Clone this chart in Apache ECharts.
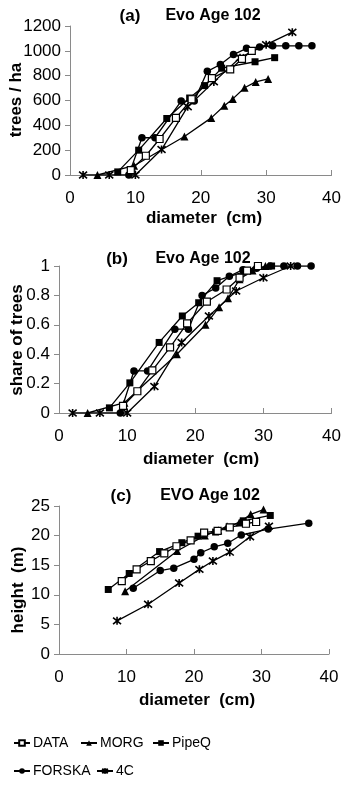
<!DOCTYPE html>
<html>
<head>
<meta charset="utf-8">
<script src="https://cdn.jsdelivr.net/npm/echarts@6/dist/echarts.min.js"></script>
<style>
html,body{margin:0;padding:0;background:#fff;}
#chart{width:344px;height:786px;}
</style>
</head>
<body>
<div id="chart"></div>
<script>
// ---- Panel (a): trees / ha vs diameter (cm) ----
const a_DATA   = [[9.3,40],[11.6,155],[13.7,290],[16.2,460],[18.6,610],[21.7,780],[24.5,850],[26.3,935],[27.8,1000]];
const a_MORG   = [[4.2,0],[9.8,75],[17.5,310],[21.6,460],[23.6,558],[24.9,613],[26.7,703],[28.4,750],[30.3,774]];
const a_PipeQ  = [[7.3,25],[10.5,200],[14.8,455],[18.3,620],[20.6,720],[23.2,860],[28.3,912],[31.3,945]];
const a_FORSKA = [[9,0],[11,300],[13,300],[17,595],[19,595],[21,835],[23,890],[25,970],[27,1020],[29,1030],[31,1040],[33,1040],[35,1040],[37,1040]];
const a_4C     = [[2,0],[6,0],[10,0],[14,205],[18,550],[22,750],[26,945],[30,1050],[34,1150]];

// ---- Panel (b): share of trees vs diameter (cm) ----
const b_DATA   = [[9.4,0.048],[11.5,0.148],[13.7,0.29],[16.3,0.446],[18.8,0.61],[21.7,0.757],[24.6,0.84],[26.5,0.92],[27.6,0.968],[29.2,1.0]];
const b_MORG   = [[4.2,0],[9.6,0.07],[17.3,0.4],[21.5,0.6],[23.5,0.72],[24.8,0.78],[26.5,0.91],[28.4,0.97],[30.3,1.0]];
const b_PipeQ  = [[7.4,0.035],[10.4,0.205],[14.7,0.48],[18.1,0.66],[20.5,0.75],[23.2,0.9],[27.1,0.96],[31.2,1.0]];
const b_FORSKA = [[9,0],[11,0.286],[13,0.286],[17,0.57],[19,0.57],[21,0.8],[23,0.85],[25,0.93],[27,0.975],[29,0.985],[31,1],[33,1],[35,1],[37,1]];
const b_4C     = [[2,0],[6,0],[10,0],[14,0.18],[18,0.48],[22,0.66],[26,0.83],[30,0.92],[34,1.0]];

// ---- Panel (c): height (m) vs diameter (cm) ----
const c_DATA   = [[9.3,12.3],[11.5,14.3],[13.6,15.7],[15.6,17.0],[17.4,18.2],[19.5,19.2],[21.5,20.5],[23.5,20.8],[25.3,21.4],[27.7,22.0],[29.2,22.3]];
const c_MORG   = [[9.8,10.6],[17.5,17.4],[21.6,20.0],[23.6,20.9],[24.9,21.6],[26.7,22.2],[28.4,23.6],[30.3,24.4]];
const c_PipeQ  = [[7.3,10.9],[10.4,13.6],[14.9,17.3],[18.2,18.8],[20.6,19.9],[23.2,20.6],[27.3,22.5],[31.3,23.4]];
const c_FORSKA = [[11,11.1],[15,14.1],[17,14.5],[20,16.0],[21,17.1],[23,18.1],[25,18.7],[27,20.1],[31,21.1],[37,22.1]];
const c_4C     = [[8.6,5.6],[13.2,8.4],[17.8,12.0],[20.8,14.3],[22.8,15.7],[25.3,17.2],[28.3,19.8],[31.1,21.6]];

// axis ticks
const xTicks = {min:0, max:40, interval:10};
const yA = {min:0, max:1200, interval:200};
const yB = {min:0, max:1, interval:0.2};
const yC = {min:0, max:25, interval:5};

const seriesNames = ['DATA','MORG','PipeQ','FORSKA','4C'];
const panelData = [
  [a_DATA,a_MORG,a_PipeQ,a_FORSKA,a_4C],
  [b_DATA,b_MORG,b_PipeQ,b_FORSKA,b_4C],
  [c_DATA,c_MORG,c_PipeQ,c_FORSKA,c_4C]
];

const FONT = '"Liberation Sans", Arial, sans-serif';
const starPath = 'path://M0,0L10,10M10,0L0,10M5,-1L5,11';
const styles = {
  'DATA':   {symbol:'rect', symbolSize:7, itemStyle:{color:'#fff', borderColor:'#000', borderWidth:1.2}},
  'MORG':   {symbol:'triangle', symbolSize:8, itemStyle:{color:'#000', borderColor:'#000', borderWidth:0}},
  'PipeQ':  {symbol:'rect', symbolSize:7, itemStyle:{color:'#000', borderColor:'#000', borderWidth:0}},
  'FORSKA': {symbol:'circle', symbolSize:7.5, itemStyle:{color:'#000', borderColor:'#000', borderWidth:0}},
  '4C':     {symbol:starPath, symbolSize:8, itemStyle:{color:'none', borderColor:'#000', borderWidth:1.6}}
};

const grids = [
  {left:70, top:26, width:264, height:149},
  {left:59, top:266, width:274, height:147},
  {left:59, top:506, width:270, height:148}
];
const yDefs = [yA, yB, yC];

const axisLine = {show:true, lineStyle:{color:'#8a8a8a', width:1}};
const xAxes = grids.map((g,i)=>({
  gridIndex:i, type:'value', min:xTicks.min, max:xTicks.max, interval:xTicks.interval,
  axisLine:axisLine, axisTick:{show:true, inside:true, length:5, lineStyle:{color:'#8a8a8a'}},
  splitLine:{show:false},
  axisLabel:{color:'#000', fontSize:17, fontFamily:FONT, margin:15}
}));
const yAxes = grids.map((g,i)=>({
  gridIndex:i, type:'value', min:yDefs[i].min, max:yDefs[i].max, interval:yDefs[i].interval,
  axisLine:axisLine, axisTick:{show:true, inside:false, length:5, lineStyle:{color:'#8a8a8a'}},
  splitLine:{show:false},
  axisLabel:{color:'#000', fontSize:17, fontFamily:FONT, margin:9, formatter:function(v){return String(+v.toFixed(2));}}
}));

const series = [];
panelData.forEach((arrs,pi)=>{
  arrs.forEach((d,si)=>{
    const n = seriesNames[si];
    const st = styles[n];
    series.push({
      name:n, type:'line', xAxisIndex:pi, yAxisIndex:pi, data:d,
      symbol:st.symbol, symbolSize:st.symbolSize, itemStyle:st.itemStyle,
      showAllSymbol:true, animation:false, z: 2 + (si===0?3:0),
      lineStyle:{color:'#000', width:1.3}
    });
  });
});

function txt(x,y,text,opts){
  return Object.assign({type:'text', x:x, y:y, style:{text:text, fill:'#000', font:'bold 17px '+FONT, align:'center', verticalAlign:'middle'}}, opts||{});
}
function ttl(x,y,text){
  return {type:'text', x:x, y:y, style:{text:text, fill:'#000', font:'bold 16px '+FONT, align:'center', verticalAlign:'middle'}};
}
const graphics = [
  txt(130,16,'(a)'), ttl(213,16,'Evo Age 102'),
  txt(117,259,'(b)'), ttl(203,259,'Evo Age 102'),
  txt(121,496,'(c)'), ttl(210,496,'EVO Age 102'),
  txt(204,218,'diameter  (cm)'),
  txt(201,459,'diameter  (cm)'),
  txt(197,700,'diameter  (cm)'),
  txt(16,100,'trees / ha',{rotation:Math.PI/2}),
  txt(17,340,'share of trees',{rotation:Math.PI/2}),
  txt(18,590,'height  (m)',{rotation:Math.PI/2})
];

const legendPos = [
  {name:'DATA', left:11, top:734},
  {name:'MORG', left:78, top:734},
  {name:'PipeQ', left:150, top:734},
  {name:'FORSKA', left:11, top:762},
  {name:'4C', left:94, top:762}
];
const legends = legendPos.map(p=>({
  data:[p.name], left:p.left, top:p.top, orient:'horizontal',
  itemWidth:16, itemHeight:7, itemGap:4, selectedMode:false, padding:2,
  textStyle:{color:'#000', fontSize:14, fontFamily:FONT, padding:[0,0,0,-2]}
}));

const chart = echarts.init(document.getElementById('chart'), null, {renderer:'canvas'});
chart.setOption({
  backgroundColor:'#fff',
  animation:false,
  grid:grids,
  xAxis:xAxes,
  yAxis:yAxes,
  legend:legends,
  series:series,
  graphic:graphics
});
</script>
</body>
</html>
